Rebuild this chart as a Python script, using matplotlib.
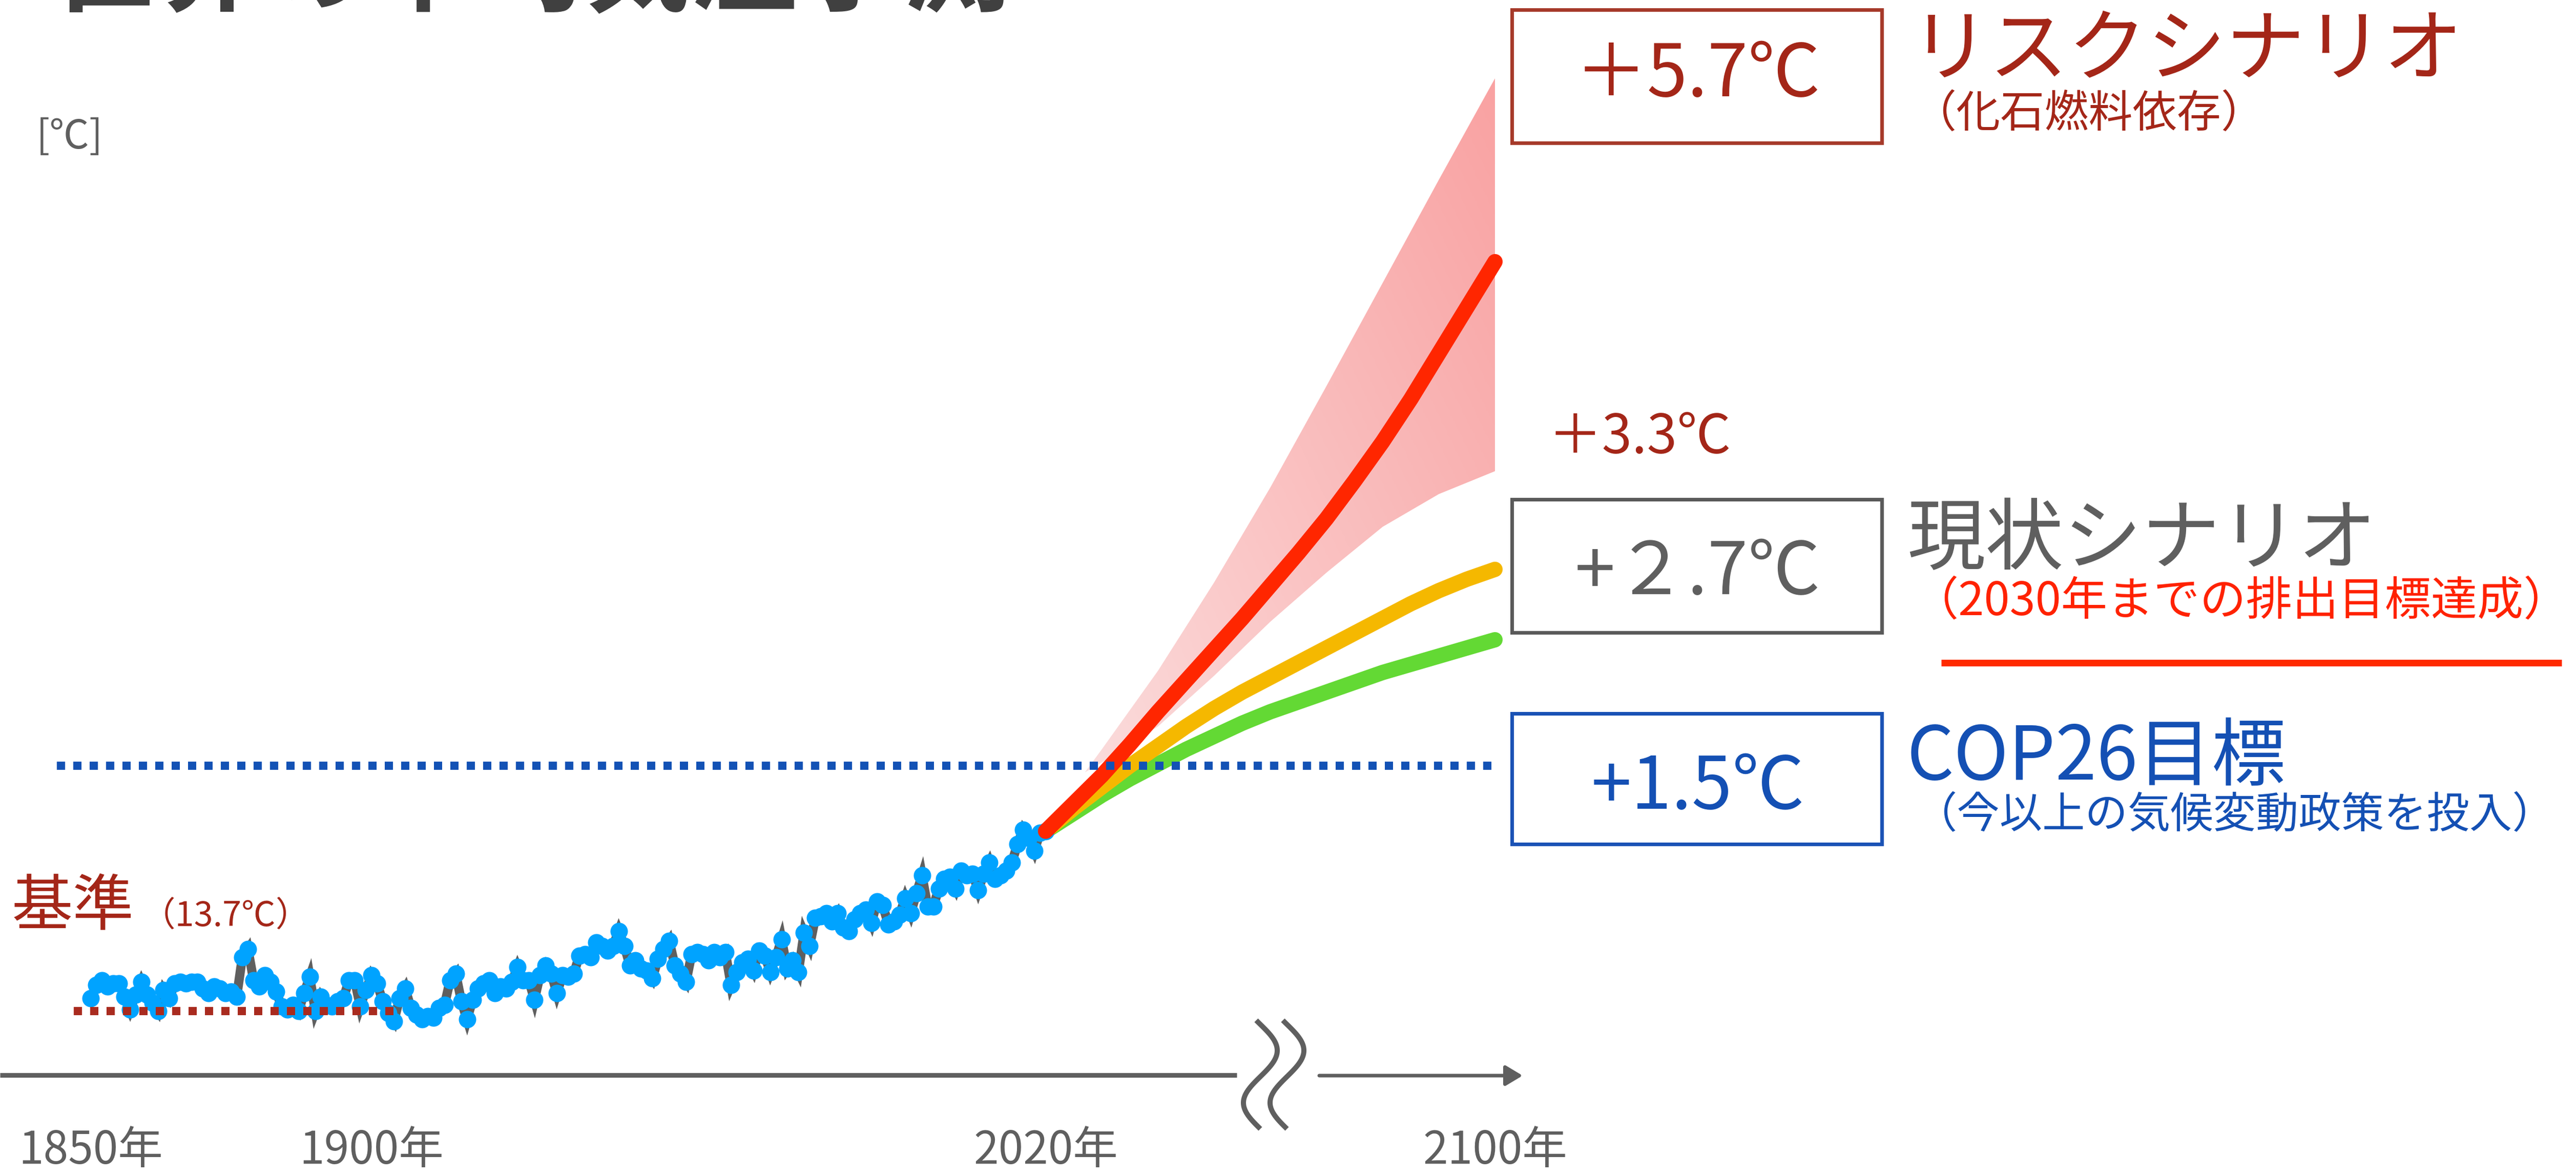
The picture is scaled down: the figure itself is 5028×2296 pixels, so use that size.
import numpy as np
import matplotlib
matplotlib.use("Agg")
import matplotlib.pyplot as plt
from matplotlib.patches import Rectangle, Polygon
from matplotlib.colors import LinearSegmentedColormap

plt.rcParams["font.family"] = ["Noto Sans CJK JP", "DejaVu Sans"]

W, H, DPI = 5028, 2296, 100

# ---------------------------------------------------------------
# Data
#   hist_anom : annual global temperature anomaly vs 1850-1900 (°C)
#   proj_*    : scenario projections every 5 years (°C)
#   band_*    : likely range of the fossil-fuel scenario (°C)
# ---------------------------------------------------------------
hist_years = np.arange(1850, 2021)
hist_anom = [
    0.08, 0.16, 0.19, 0.15, 0.17, 0.17, 0.09, 0.01, 0.10, 0.18,
    0.10, 0.05, 0.00, 0.13, 0.08, 0.17, 0.18, 0.17, 0.18, 0.18,
    0.14, 0.11, 0.15, 0.14, 0.11, 0.12, 0.09, 0.33, 0.38, 0.19,
    0.15, 0.22, 0.18, 0.12, 0.03, 0.01, 0.04, 0.00, 0.11, 0.21,
    0.00, 0.09, 0.04, 0.03, 0.06, 0.08, 0.19, 0.19, 0.03, 0.13,
    0.22, 0.17, 0.06, -0.01, -0.06, 0.08, 0.14, 0.02, -0.02, -0.05,
    -0.03, -0.04, 0.02, 0.04, 0.19, 0.23, 0.06, -0.05, 0.07, 0.14,
    0.17, 0.19, 0.11, 0.15, 0.14, 0.18, 0.27, 0.19, 0.19, 0.07,
    0.22, 0.28, 0.23, 0.11, 0.22, 0.21, 0.23, 0.34, 0.35, 0.33,
    0.42, 0.40, 0.37, 0.40, 0.49, 0.40, 0.28, 0.31, 0.26, 0.25,
    0.20, 0.32, 0.38, 0.43, 0.28, 0.23, 0.18, 0.35, 0.36, 0.35,
    0.31, 0.36, 0.33, 0.36, 0.16, 0.24, 0.30, 0.32, 0.25, 0.37,
    0.34, 0.24, 0.33, 0.44, 0.26, 0.31, 0.24, 0.48, 0.40, 0.57,
    0.58, 0.60, 0.55, 0.60, 0.51, 0.49, 0.56, 0.60, 0.62, 0.54,
    0.67, 0.65, 0.53, 0.55, 0.59, 0.69, 0.60, 0.72, 0.83, 0.64,
    0.64, 0.75, 0.81, 0.82, 0.75, 0.86, 0.83, 0.84, 0.74, 0.84,
    0.91, 0.81, 0.83, 0.86, 0.91, 1.02, 1.11, 1.06, 0.98, 1.09,
    1.10,
]

proj_years = np.arange(2020, 2101, 5)
proj_risk = [1.10, 1.27, 1.44, 1.63, 1.83, 2.02, 2.21, 2.40, 2.60,
             2.80, 3.01, 3.24, 3.48, 3.74, 4.02, 4.30, 4.58]
proj_current = [1.10, 1.24, 1.37, 1.50, 1.62, 1.74, 1.85, 1.95, 2.04,
                2.13, 2.22, 2.31, 2.40, 2.49, 2.57, 2.64, 2.70]
proj_cop26 = [1.10, 1.21, 1.32, 1.42, 1.51, 1.60, 1.68, 1.76, 1.83,
              1.89, 1.95, 2.01, 2.07, 2.12, 2.17, 2.22, 2.27]

band_years = [2027, 2030, 2040, 2050, 2060, 2070, 2080, 2090, 2100]
band_low = [1.46, 1.52, 1.74, 2.05, 2.38, 2.68, 2.96, 3.16, 3.30]
band_high = [1.46, 1.60, 2.08, 2.62, 3.20, 3.82, 4.45, 5.08, 5.70]

cop26_limit = 1.5
cop26_span = (1844, 2100)
baseline_span = (1847, 1904)
axis_break_year = 2054

tick_years = [1850, 1900, 2020, 2100]
tick_labels = ["1850年", "1900年", "2020年", "2100年"]

# colours
GRAY = "#5F5F5F"
DARK_RED = "#A42618"
BLUE = "#1450B4"
HIST_BLUE = "#00A3FF"
RISK_RED = "#FF2600"
CUR_YELLOW = "#F5B800"
COP_GREEN = "#63D934"

px = 72 / DPI  # pixels -> points

fig = plt.figure(figsize=(W / DPI, H / DPI), dpi=DPI)
fig.patch.set_facecolor("white")

# main data axes: bottom spine is the time axis
ax_bottom = 2099
ax = fig.add_axes([0, (H - ax_bottom) / H, 1, ax_bottom / H])
ax.set_facecolor("none")

# likely range for the fossil-fuel scenario, shaded with a soft gradient
verts = np.column_stack([np.r_[band_years, band_years[::-1]],
                         np.r_[band_high, band_low[::-1]]])
clip = Polygon(verts, closed=True, transform=ax.transData,
               facecolor="none", edgecolor="none")
ax.add_patch(clip)
gx, gy = np.meshgrid(np.linspace(0, 1, 300), np.linspace(0, 1, 300))
cmap = LinearSegmentedColormap.from_list("band", ["#FBDCDC", "#F9A2A2"])
img = ax.imshow(0.55 * gx + 0.45 * gy, cmap=cmap, origin="lower", aspect="auto",
                extent=[min(band_years), max(band_years), min(band_low), max(band_high)],
                zorder=2, interpolation="bilinear")
img.set_clip_path(clip)

# scenario projections
line_kw = dict(lw=30 * px, solid_capstyle="round", solid_joinstyle="round")
ax.plot(proj_years, proj_cop26, color=COP_GREEN, zorder=3, **line_kw)
ax.plot(proj_years, proj_current, color=CUR_YELLOW, zorder=4, **line_kw)

# observed record: grey line with sharp joins, blue dots on every year
ax.plot(hist_years, hist_anom, color=GRAY, lw=18 * px,
        solid_joinstyle="miter", zorder=4.5)
ax.plot(hist_years, hist_anom, ls="none", marker="o", ms=34 * px,
        mfc=HIST_BLUE, mec="none", zorder=4.6)

ax.plot(proj_years, proj_risk, color=RISK_RED, zorder=5, **line_kw)

# 1.5 °C target and pre-industrial baseline
ax.plot(cop26_span, [cop26_limit] * 2, color="#1352B5", lw=16 * px,
        ls=(0, (1, 1)), dash_capstyle="butt", zorder=6)
ax.plot(baseline_span, [0, 0], color="#A92B1F", lw=16 * px,
        ls=(0, (1, 1)), dash_capstyle="butt", zorder=7)

ax.set_xlim(1833.86, 2292.45)
ax.set_ylim(-0.390, 6.179)

for side in ["top", "right", "left"]:
    ax.spines[side].set_visible(False)
ax.spines["bottom"].set_color(GRAY)
ax.spines["bottom"].set_linewidth(9 * px)
ax.spines["bottom"].set_bounds(1833.86, axis_break_year)
ax.spines["bottom"].set_capstyle("butt")
ax.set_yticks([])
ax.set_xticks(tick_years, tick_labels)
ax.tick_params(axis="x", length=0, pad=74, labelsize=63, labelcolor=GRAY)

# overlay in pixel coordinates for annotations
ov = fig.add_axes([0, 0, 1, 1], zorder=10)
ov.set_xlim(0, W)
ov.set_ylim(H, 0)
ov.axis("off")

# axis break marks and arrow towards 2100
yy = np.linspace(1992, 2204, 120)
for xc in (2460, 2512):
    ov.plot(xc + 33 * np.sin(2 * np.pi * (yy - 2000) / 204), yy,
            color=GRAY, lw=10 * px, solid_capstyle="butt")
ov.annotate("", xy=(2972, 2100), xytext=(2575, 2100),
            arrowprops=dict(arrowstyle="-|>,head_length=0.5,head_width=0.3",
                            color=GRAY, lw=7 * px, shrinkA=0, shrinkB=0,
                            mutation_scale=40))

# title (runs off the top edge)
ov.text(97, 4, "世界の平均気温予測", fontsize=150, fontweight="bold",
        color="#404040", ha="left", va="baseline")

ov.text(71, 290, "[℃]", fontsize=56, color=GRAY, ha="left", va="baseline")
ov.text(23, 1806, "基準", fontsize=86, color=DARK_RED, ha="left", va="baseline")
ov.text(276, 1808, "（13.7℃）", fontsize=48, color=DARK_RED, ha="left", va="baseline")

# scenario boxes
boxes = [
    (18.5, 260, "#A63A2A", "＋5.7℃", 188, DARK_RED),
    (974.5, 260, "#5A5A5A", "+２.7℃", 1160, GRAY),
    (1392.5, 255, "#1A52B5", "+1.5℃", 1579, BLUE),
]
for y0, h, ec, label, base, tc in boxes:
    ov.add_patch(Rectangle((2951, y0), 721.5, h, fill=False, ec=ec, lw=7 * px))
    ov.text(3314, base, label, fontsize=102, color=tc, ha="center", va="baseline")

ov.text(3022, 885, "＋3.3℃", fontsize=76, color=DARK_RED, ha="left", va="baseline")

ov.text(3728, 145, "リスクシナリオ", fontsize=111, color=DARK_RED, ha="left", va="baseline")
ov.text(3732, 248, "（化石燃料依存）", fontsize=62, color=DARK_RED, ha="left", va="baseline")

ov.text(3722, 1100, "現状シナリオ", fontsize=110, color=GRAY, ha="left", va="baseline")
ov.text(3732, 1200, "（2030年までの排出目標達成）", fontsize=65, color="#FF2200",
        ha="left", va="baseline")
ov.plot([3789, 5000], [1294, 1294], color="#FF2A00", lw=13 * px, solid_capstyle="butt")

ov.text(3722, 1522, "COP26目標", fontsize=104, color=BLUE, ha="left", va="baseline")
ov.text(3736, 1616, "（今以上の気候変動政策を投入）", fontsize=60, color=BLUE,
        ha="left", va="baseline")

fig.savefig("out.png", dpi=DPI, facecolor="white")
